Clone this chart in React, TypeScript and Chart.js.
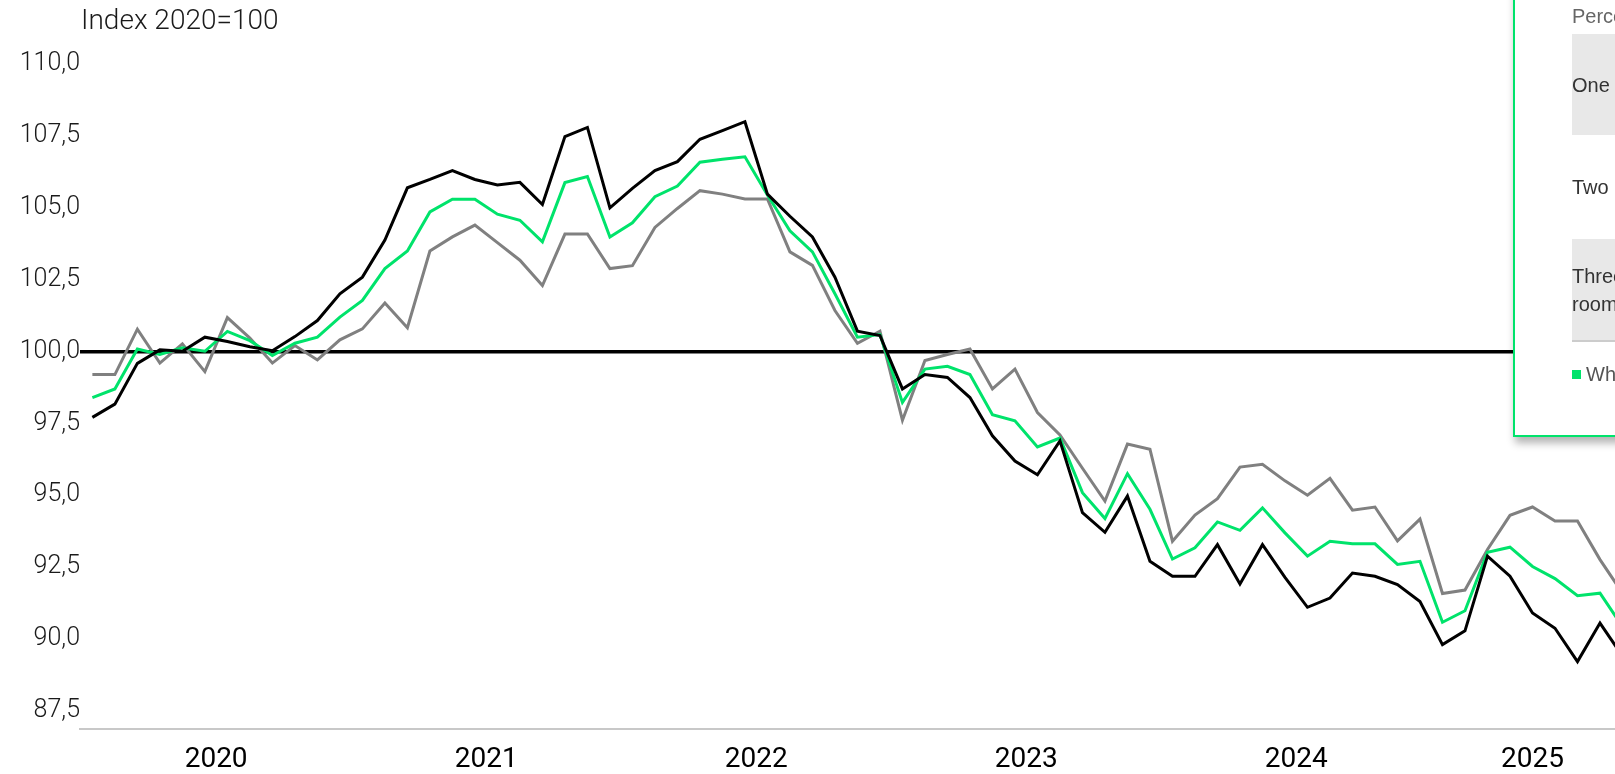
import React, { useEffect, useRef } from "react";
import { Chart, registerables } from "chart.js";

Chart.register(...registerables);

// Monthly index values, Jan 2020 onwards (index 2020 = 100)
const seriesBlack = [
  97.71, 98.17, 99.59, 100.06, 100.01, 100.5, 100.35, 100.17, 100.03, 100.52,
  101.08, 102.01, 102.59, 103.88, 105.7, 105.99, 106.3, 105.99, 105.8, 105.89,
  105.12, 107.48, 107.8, 105.0, 105.68, 106.3, 106.61, 107.39, 107.69, 108.0,
  105.48, 104.71, 103.99, 102.59, 100.71, 100.56, 98.7, 99.2, 99.1, 98.4,
  97.07, 96.19, 95.71, 96.89, 94.39, 93.71, 94.97, 92.7, 92.18, 92.18,
  93.28, 91.91, 93.28, 92.14, 91.1, 91.42, 92.29, 92.18, 91.89, 91.3,
  89.8, 90.28, 92.88, 92.18, 90.9, 90.37, 89.21, 90.55, 89.4,
];

const seriesGreen = [
  98.4, 98.7, 100.09, 99.9, 100.13, 100.01, 100.7, 100.38, 99.86, 100.29,
  100.5, 101.2, 101.78, 102.89, 103.5, 104.86, 105.3, 105.3, 104.78, 104.57,
  103.82, 105.88, 106.09, 103.99, 104.48, 105.39, 105.76, 106.59, 106.69, 106.78,
  105.45, 104.2, 103.47, 102.01, 100.5, 100.59, 98.23, 99.39, 99.49, 99.2,
  97.8, 97.59, 96.68, 96.99, 95.09, 94.19, 95.75, 94.51, 92.78, 93.17,
  94.07, 93.78, 94.56, 93.69, 92.88, 93.4, 93.31, 93.31, 92.59, 92.7,
  90.58, 90.98, 93.01, 93.19, 92.52, 92.1, 91.5, 91.59, 90.43,
];

const seriesGrey = [
  99.2, 99.2, 100.78, 99.6, 100.27, 99.3, 101.18, 100.47, 99.6, 100.21,
  99.71, 100.41, 100.79, 101.69, 100.83, 103.5, 103.99, 104.4, 103.79, 103.18,
  102.3, 104.09, 104.09, 102.89, 102.99, 104.32, 104.98, 105.6, 105.48, 105.31,
  105.31, 103.47, 103.0, 101.43, 100.29, 100.71, 97.61, 99.69, 99.9, 100.09,
  98.7, 99.39, 97.88, 97.1, 95.94, 94.8, 96.78, 96.6, 93.4, 94.31,
  94.88, 95.98, 96.08, 95.5, 95.0, 95.59, 94.48, 94.59, 93.41, 94.17,
  91.58, 91.7, 93.11, 94.3, 94.59, 94.1, 94.1, 92.76, 91.59,
];

// Year labels sit in the middle of each year's months (month 0 = Jan 2020)
const yearLabels = ["2020", "2021", "2022", "2023", "2024", "2025"];
const yearCentres = [5.5, 17.5, 29.5, 41.5, 53.5, 64];

const yTicks = [87.5, 90, 92.5, 95, 97.5, 100, 102.5, 105, 107.5, 110];
const baseline = 100;

const GREEN = "#00e36b";

const tableRows = ["One room", "Two rooms", "Three or more rooms"];
const tableHeader = "Percentage change";
const legendLabel = "Whole market";

export default function App() {
  const canvasRef = useRef<HTMLCanvasElement | null>(null);

  useEffect(() => {
    const canvas = canvasRef.current;
    if (!canvas) return;
    const toPoints = (arr: number[]) => arr.map((y, i) => ({ x: i, y }));
    const line = (label: string, data: number[], color: string) => ({
      label,
      data: toPoints(data),
      borderColor: color,
      backgroundColor: color,
      borderWidth: 3,
      pointRadius: 0,
      pointHoverRadius: 0,
      tension: 0,
      fill: false,
    });

    const chart = new Chart(canvas, {
      type: "line",
      data: {
        datasets: [
          line("Black", seriesBlack, "#000000"),
          line(legendLabel, seriesGreen, GREEN),
          line("Grey", seriesGrey, "#808080"),
        ],
      },
      options: {
        responsive: false,
        animation: false,
        layout: { padding: { top: 47, right: 5, left: 0, bottom: 0 } },
        plugins: {
          legend: { display: false },
          tooltip: { enabled: false },
        },
        scales: {
          x: {
            type: "linear",
            min: -0.55,
            max: 69,
            afterBuildTicks: (s: any) => {
              s.ticks = yearCentres.map((v) => ({ value: v }));
            },
            ticks: {
              autoSkip: false,
              maxRotation: 0,
              padding: 14,
              color: "#000000",
              font: { family: "Roboto", size: 28, weight: "400" },
              callback: (_v: any, i: number) => yearLabels[i],
            },
            grid: { display: true, drawTicks: false, color: "rgba(0,0,0,0)" },
            border: { display: true, color: "#c8c8c8", width: 2 },
          },
          y: {
            type: "linear",
            min: 86.85,
            max: 110.6,
            afterBuildTicks: (s: any) => {
              s.ticks = yTicks.map((v) => ({ value: v }));
            },
            afterFit: (s: any) => {
              s.width = 80;
              s.paddingTop = 0;
              s.paddingBottom = 0;
            },
            ticks: {
              padding: 0,
              color: "#1a1a1a",
              font: { family: "Roboto", size: 25, weight: "300" },
              callback: (v: any) => Number(v).toFixed(1).replace(".", ","),
            },
            grid: {
              display: true,
              drawTicks: false,
              lineWidth: 3.4,
              color: (ctx: any) =>
                ctx.tick && ctx.tick.value === baseline ? "#000000" : "rgba(0,0,0,0)",
            },
            border: { display: false },
          },
        },
      },
    } as any);

    return () => chart.destroy();
  }, []);

  const rowText: React.CSSProperties = {
    position: "absolute",
    left: 0,
    top: 0,
    bottom: 0,
    width: 150,
    display: "flex",
    alignItems: "center",
    fontFamily: "'Liberation Sans', Arial, sans-serif",
    fontSize: 20,
    lineHeight: "28px",
    color: "#333333",
  };

  return (
    <div
      style={{
        position: "fixed",
        left: 0,
        top: 0,
        width: "100vw",
        height: "100vh",
        overflow: "hidden",
        background: "#ffffff",
      }}
    >
      {/* the canvas runs a little past the window on the right and bottom */}
      <canvas
        ref={canvasRef}
        width={1650}
        height={791}
        style={{ position: "absolute", left: 0, top: 0, width: 1650, height: 791 }}
      />
      <div
        style={{
          position: "absolute",
          left: 81,
          top: 3,
          fontFamily: "Roboto, sans-serif",
          fontWeight: 300,
          fontSize: 28,
          lineHeight: "34px",
          color: "#1a1a1a",
          whiteSpace: "nowrap",
        }}
      >
        Index 2020=100
      </div>

      <div
        style={{
          position: "absolute",
          left: 1513,
          top: -20,
          width: 420,
          height: 457,
          boxSizing: "border-box",
          border: `2px solid ${GREEN}`,
          background: "#ffffff",
          boxShadow: "2px 6px 8px rgba(0,0,0,0.3)",
        }}
      >
        <div
          style={{
            position: "absolute",
            left: 57,
            top: 21,
            fontFamily: "'Liberation Sans', Arial, sans-serif",
            fontSize: 20,
            lineHeight: "26px",
            color: "#666666",
            whiteSpace: "nowrap",
          }}
        >
          {tableHeader}
        </div>
        <div style={{ position: "absolute", left: 57, top: 52, width: 360, height: 101, background: "#e8e8e8" }}>
          <div style={rowText}>{tableRows[0]}</div>
        </div>
        <div style={{ position: "absolute", left: 57, top: 153, width: 360, height: 104, background: "#ffffff" }}>
          <div style={rowText}>{tableRows[1]}</div>
        </div>
        <div
          style={{
            position: "absolute",
            left: 57,
            top: 257,
            width: 360,
            height: 101,
            background: "#e8e8e8",
            borderBottom: "2px solid #cccccc",
          }}
        >
          <div style={rowText}>{tableRows[2]}</div>
        </div>
        <div
          style={{
            position: "absolute",
            left: 57,
            top: 388,
            width: 9,
            height: 9,
            background: GREEN,
          }}
        />
        <div
          style={{
            position: "absolute",
            left: 71,
            top: 379,
            fontFamily: "'Liberation Sans', Arial, sans-serif",
            fontSize: 20,
            lineHeight: "26px",
            color: "#555555",
            whiteSpace: "nowrap",
          }}
        >
          {legendLabel}
        </div>
      </div>
    </div>
  );
}
